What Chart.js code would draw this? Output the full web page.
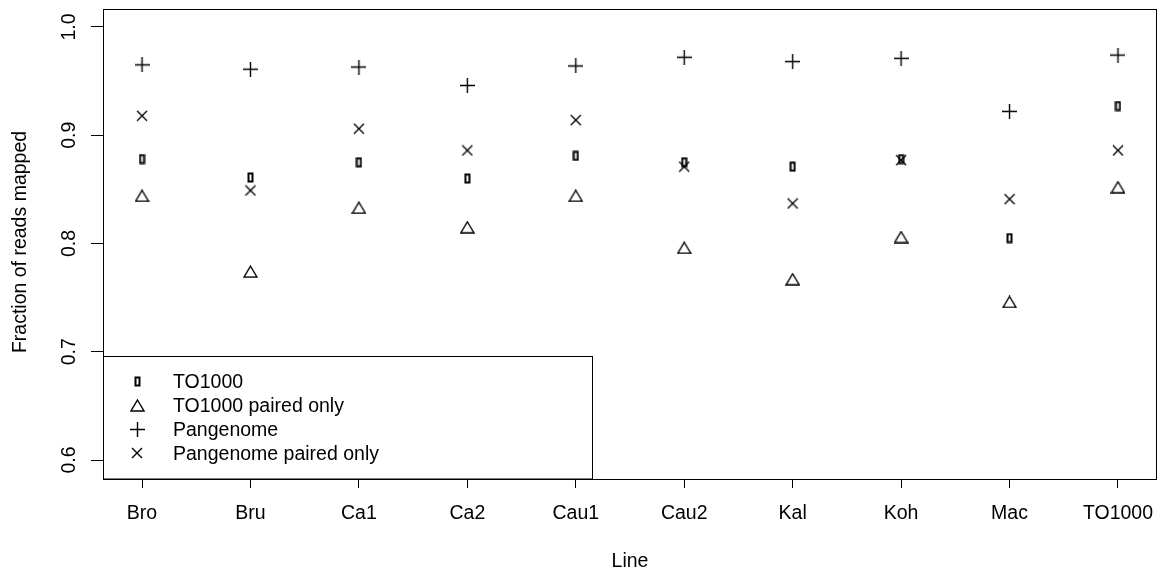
<!DOCTYPE html>
<html>
<head>
<meta charset="utf-8">
<script src="https://cdn.jsdelivr.net/npm/chart.js@4/dist/chart.umd.min.js"></script>
<style>
  html, body { margin: 0; padding: 0; background: #fff; }
  #wrap { width: 1162px; height: 571px; }
</style>
</head>
<body>
<div id="wrap"><canvas id="mapChart"></canvas></div>
<script>
var lines = ['Bro', 'Bru', 'Ca1', 'Ca2', 'Cau1', 'Cau2', 'Kal', 'Koh', 'Mac', 'TO1000'];
var to1000 = [0.878, 0.861, 0.875, 0.860, 0.881, 0.875, 0.871, 0.878, 0.805, 0.927];
var to1000Paired = [0.844, 0.774, 0.833, 0.815, 0.844, 0.796, 0.767, 0.806, 0.746, 0.852];
var pangenome = [0.965, 0.961, 0.963, 0.946, 0.964, 0.972, 0.968, 0.971, 0.922, 0.974];
var pangenomePaired = [0.918, 0.849, 0.906, 0.886, 0.914, 0.871, 0.837, 0.877, 0.841, 0.886];
var yTicks = [0.6, 0.7, 0.8, 0.9, 1.0];
var seriesNames = ['TO1000', 'TO1000 paired only', 'Pangenome', 'Pangenome paired only'];

var FONT = '"Liberation Sans", Arial, Helvetica, sans-serif';

// marker images, R style symbols
function marker(w, h, draw) {
    var c = document.createElement('canvas');
    c.width = w; c.height = h;
    var g = c.getContext('2d');
    g.strokeStyle = '#000';
    g.lineWidth = 1.4;
    draw(g);
    return c;
}
var rectMark = marker(7, 11, function (g) {
    g.lineWidth = 2;
    g.strokeRect(1.5, 1.5, 4, 8);
});
var triMark = marker(15, 13, function (g) {
    g.beginPath();
    g.moveTo(7.5, 1); g.lineTo(14, 12); g.lineTo(1, 12); g.closePath();
    g.stroke();
});
var plusMark = marker(15, 15, function (g) {
    g.beginPath();
    g.moveTo(0, 7.5); g.lineTo(15, 7.5);
    g.moveTo(7.5, 0); g.lineTo(7.5, 15);
    g.stroke();
});
var crossMark = marker(12, 12, function (g) {
    g.beginPath();
    g.moveTo(1, 1); g.lineTo(11, 11);
    g.moveTo(11, 1); g.lineTo(1, 11);
    g.stroke();
});
var marks = [rectMark, triMark, plusMark, crossMark];

function pts(vals) {
    return vals.map(function (v, i) { return { x: i + 1, y: v }; });
}

var rBase = {
    id: 'rBase',
    afterDraw: function (chart) {
        var ctx = chart.ctx, a = chart.chartArea;
        var ys = chart.scales.y, xs = chart.scales.x;
        ctx.save();
        ctx.strokeStyle = '#000';
        ctx.lineWidth = 1;
        ctx.strokeRect(Math.round(a.left) + 0.5, Math.round(a.top) + 0.5,
            Math.round(a.right - a.left) - 1, Math.round(a.bottom - a.top));
        ctx.fillStyle = '#000';
        ctx.font = '19.5px ' + FONT;
        // y tick labels, rotated
        ctx.textAlign = 'center';
        ctx.textBaseline = 'alphabetic';
        yTicks.forEach(function (t) {
            ctx.save();
            ctx.translate(75, ys.getPixelForValue(t));
            ctx.rotate(-Math.PI / 2);
            ctx.fillText(t.toFixed(1), 0, 0);
            ctx.restore();
        });
        // x tick labels
        lines.forEach(function (l, i) {
            ctx.fillText(l, xs.getPixelForValue(i + 1), 519);
        });
        // axis titles
        ctx.fillText('Line', (a.left + a.right) / 2, 567);
        ctx.save();
        ctx.translate(26, 242);
        ctx.rotate(-Math.PI / 2);
        ctx.fillText('Fraction of reads mapped', 0, 0);
        ctx.restore();
        // legend
        var lx = Math.round(a.left) + 0.5, ly = 356.5;
        ctx.fillStyle = '#fff';
        ctx.fillRect(lx, ly, 489, a.bottom - ly);
        ctx.strokeRect(lx, ly, 489, a.bottom - ly);
        ctx.fillStyle = '#000';
        ctx.textAlign = 'left';
        seriesNames.forEach(function (n, i) {
            var base = 388 + i * 24;
            var m = marks[i];
            ctx.drawImage(m, Math.round(137 - m.width / 2), Math.round(base - 7 - m.height / 2));
            ctx.fillText(n, 173, base);
        });
        ctx.restore();
    }
};

var ctx = document.getElementById('mapChart').getContext('2d');
var myChart = new Chart(ctx, {
    type: 'scatter',
    data: {
        datasets: [
            { label: seriesNames[0], data: pts(to1000), pointStyle: rectMark },
            { label: seriesNames[1], data: pts(to1000Paired), pointStyle: triMark },
            { label: seriesNames[2], data: pts(pangenome), pointStyle: plusMark },
            { label: seriesNames[3], data: pts(pangenomePaired), pointStyle: crossMark }
        ]
    },
    options: {
        responsive: true,
        maintainAspectRatio: false,
        animation: false,
        layout: { padding: { top: 9, right: 2, left: 0, bottom: 0 } },
        plugins: { legend: { display: false }, tooltip: { enabled: false } },
        scales: {
            x: {
                type: 'linear',
                min: 0.64,
                max: 10.36,
                afterBuildTicks: function (s) {
                    s.ticks = lines.map(function (l, i) { return { value: i + 1 }; });
                },
                afterFit: function (s) { s.height = 92; },
                ticks: { display: false },
                grid: { drawOnChartArea: false, drawTicks: true, tickLength: 9, color: '#000' },
                border: { display: false }
            },
            y: {
                min: 0.5825,
                max: 1.0166,
                afterBuildTicks: function (s) {
                    s.ticks = yTicks.map(function (v) { return { value: v }; });
                },
                afterFit: function (s) { s.width = 103; },
                ticks: { display: false },
                grid: { drawOnChartArea: false, drawTicks: true, tickLength: 12, color: '#000' },
                border: { display: false }
            }
        }
    },
    plugins: [rBase]
});
</script>
</body>
</html>
